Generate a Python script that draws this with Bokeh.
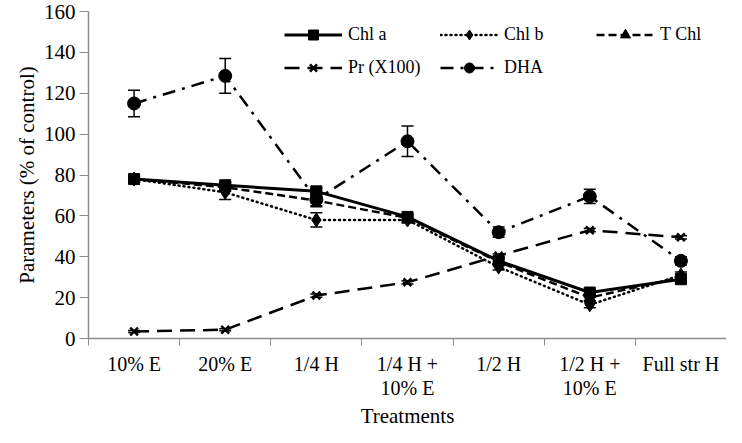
from bokeh.plotting import figure
from bokeh.models import (Range1d, FixedTicker, Legend, LegendItem, Whisker,
                          ColumnDataSource, Title)
from bokeh.embed import file_html
from bokeh.resources import INLINE

categories = ["10% E", "20% E", "1/4 H", "1/4 H +\n10% E", "1/2 H",
              "1/2 H +\n10% E", "Full str H"]
chl_a = [78, 75, 72, 59.5, 38, 22.5, 29]
chl_a_err = [1.5, 1.5, 1.5, 1.5, 1.5, 1.5, 1.5]
chl_b = [78, 71.5, 58, 58, 35, 16.5, 31]
chl_b_err = [1.5, 3.5, 3.5, 1.5, 1.5, 1.5, 1.5]
t_chl = [78, 74, 67.5, 59, 37.5, 20, 30]
t_chl_err = [1.5, 2, 3, 1.5, 1.5, 1.5, 1.5]
pr = [3.4, 4.3, 21, 27.5, 40.5, 53, 49.5]
pr_err = [0.5, 0.5, 0.8, 0.8, 0.8, 0.8, 0.8]
dha = [115, 128.5, 68, 96.5, 52, 69.5, 38]
dha_err = [6.5, 8.5, 3, 7.5, 2.5, 3.5, 2]
y_ticks = [0, 20, 40, 60, 80, 100, 120, 140, 160]
x_title = "Treatments"
y_title = "Parameters (% of control)"

FONT = "'Liberation Serif', 'Times New Roman', serif"
GRAY = "#8c8c8c"

x = list(range(len(categories)))

p = figure(width=726, height=427, output_backend="svg", toolbar_location=None,
           x_range=Range1d(-0.5, 6.5), y_range=Range1d(0, 160),
           min_border_left=88, min_border_right=0, min_border_top=11,
           min_border_bottom=88)
p.outline_line_color = None
p.xgrid.visible = False
p.ygrid.visible = False
p.background_fill_color = "white"
p.border_fill_color = "white"

# axes
p.xaxis.ticker = FixedTicker(ticks=x, minor_ticks=[i - 0.5 for i in range(len(categories) + 1)])
p.xaxis.major_label_overrides = {i: c for i, c in enumerate(categories)}
p.xaxis.major_tick_out = 0
p.xaxis.major_tick_in = 0
p.xaxis.minor_tick_out = 7
p.xaxis.minor_tick_in = 0
p.xaxis.minor_tick_line_color = GRAY
p.xaxis.axis_line_color = GRAY
p.xaxis.axis_line_width = 1.5
p.xaxis.major_label_standoff = 7
p.xaxis.major_label_text_line_height = 1.1
p.xaxis.major_label_text_font_size = "20px"

p.yaxis.ticker = FixedTicker(ticks=y_ticks)
p.yaxis.major_tick_out = 9
p.yaxis.major_tick_in = 0
p.yaxis.minor_tick_out = 0
p.yaxis.minor_tick_in = 0
p.yaxis.major_tick_line_color = GRAY
p.yaxis.axis_line_color = GRAY
p.yaxis.axis_line_width = 1.5
p.yaxis.major_label_standoff = 4
p.yaxis.major_label_text_font_size = "21px"
p.yaxis.axis_label = y_title
p.yaxis.axis_label_standoff = 2

for ax in (p.xaxis, p.yaxis):
    ax.major_label_text_font = FONT
    ax.major_label_text_color = "black"
    ax.axis_label_text_font = FONT
    ax.axis_label_text_font_size = "21px"
    ax.axis_label_text_font_style = "normal"
    ax.axis_label_text_color = "black"

# x-axis title as a panel below the axis
p.add_layout(Title(text=x_title, align="center", text_font=FONT,
                   text_font_size="21px", text_font_style="normal",
                   text_color="black", standoff=0, offset=0), "below")


def add_err(vals, errs):
    src = ColumnDataSource(dict(x=x, lo=[v - e for v, e in zip(vals, errs)],
                                hi=[v + e for v, e in zip(vals, errs)]))
    w = Whisker(base="x", lower="lo", upper="hi", source=src,
                line_color="black", line_width=1.5)
    w.upper_head.size = 12
    w.lower_head.size = 12
    w.upper_head.line_color = "black"
    w.lower_head.line_color = "black"
    w.upper_head.line_width = 1.5
    w.lower_head.line_width = 1.5
    p.add_layout(w)


add_err(dha, dha_err)
add_err(pr, pr_err)
add_err(chl_b, chl_b_err)
add_err(t_chl, t_chl_err)
add_err(chl_a, chl_a_err)

l_dha = p.line(x, dha, line_color="black", line_width=2.5, line_dash="13 7 3 7")
s_dha = p.scatter(x, dha, marker="circle", size=13, color="black")
l_pr = p.line(x, pr, line_color="black", line_width=2.5, line_dash="15 8")
s_pr = p.scatter(x, pr, marker="x", size=11, line_color="black", line_width=2.5)
l_b = p.line(x, chl_b, line_color="black", line_width=2.5, line_dash="1 4",
             line_cap="round")
s_b = p.scatter(x, chl_b, marker="diamond", size=14, color="black")
l_t = p.line(x, t_chl, line_color="black", line_width=2.5, line_dash="8 4")
s_t = p.scatter(x, t_chl, marker="triangle", size=11, color="black")
l_a = p.line(x, chl_a, line_color="black", line_width=3)
s_a = p.scatter(x, chl_a, marker="square", size=11, color="black")

# items are laid out column by column (2 rows)
legend = Legend(items=[
    LegendItem(label="Chl a", renderers=[l_a, s_a]),
    LegendItem(label="Pr (X100)", renderers=[l_pr, s_pr]),
    LegendItem(label="Chl b", renderers=[l_b, s_b]),
    LegendItem(label="DHA", renderers=[l_dha, s_dha]),
    LegendItem(label="T Chl", renderers=[l_t, s_t]),
], ncols=3, location=(196, 254))
legend.border_line_color = None
legend.background_fill_alpha = 0
legend.padding = 0
legend.margin = 0
legend.spacing = 0
legend.glyph_width = 58
legend.glyph_height = 25
legend.label_height = 33
legend.label_width = 92
legend.label_standoff = 6
legend.label_text_font = FONT
legend.label_text_font_size = "18px"
legend.label_text_color = "black"
p.add_layout(legend, "center")

open("out.html", "w").write(file_html(p, INLINE))
